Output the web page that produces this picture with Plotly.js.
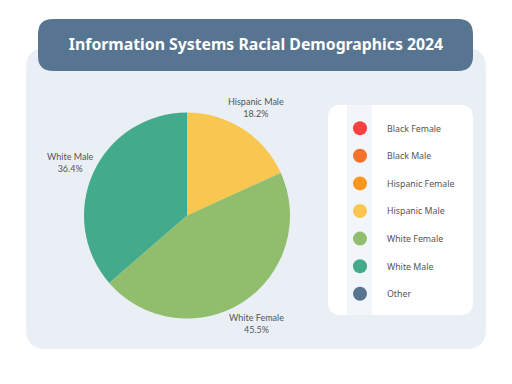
<!DOCTYPE html>
<html>
<head>
<meta charset="utf-8">
<script src="https://cdn.plot.ly/plotly-3.0.1.min.js"></script>
<style>html,body{margin:0;padding:0;background:#fff;}#chart{width:512px;height:384px;}</style>
</head>
<body>
<div id="chart"></div>
<script>
var categories = ["Black Female", "Black Male", "Hispanic Female", "Hispanic Male", "White Female", "White Male", "Other"];
var counts = [0, 0, 0, 2, 5, 4, 0];
var colors = ["#f94144", "#f3722c", "#f8961e", "#f9c74f", "#90be6d", "#43aa8b", "#577590"];
var chartTitle = "Information Systems Racial Demographics 2024";

var W = 512, H = 384;
function px(x){ return x / W; }
function py(y){ return 1 - y / H; }
function roundRect(x0, y0, x1, y1, r){
  var X = function(v){ return px(v).toFixed(5); };
  var Y = function(v){ return py(v).toFixed(5); };
  return "M" + X(x0 + r) + "," + Y(y0) +
    " L" + X(x1 - r) + "," + Y(y0) +
    " Q" + X(x1) + "," + Y(y0) + " " + X(x1) + "," + Y(y0 + r) +
    " L" + X(x1) + "," + Y(y1 - r) +
    " Q" + X(x1) + "," + Y(y1) + " " + X(x1 - r) + "," + Y(y1) +
    " L" + X(x0 + r) + "," + Y(y1) +
    " Q" + X(x0) + "," + Y(y1) + " " + X(x0) + "," + Y(y1 - r) +
    " L" + X(x0) + "," + Y(y0 + r) +
    " Q" + X(x0) + "," + Y(y0) + " " + X(x0 + r) + "," + Y(y0) + " Z";
}

var pieLabels = [], pieValues = [], pieColors = [];
for (var i = 0; i < categories.length; i++) {
  if (counts[i] > 0) { pieLabels.push(categories[i]); pieValues.push(counts[i]); pieColors.push(colors[i]); }
}

// pie geometry (pixels)
var cx = 187, cy = 215.5, R = 103, labelR = 128;

var traces = [{
  type: "pie",
  labels: pieLabels,
  values: pieValues,
  marker: { colors: pieColors, line: { width: 0 } },
  sort: false,
  direction: "clockwise",
  rotation: 0,
  textinfo: "none",
  showlegend: false,
  hoverinfo: "none",
  domain: { x: [px(cx - R), px(cx + R)], y: [py(cy + R), py(cy - R)] }
}];
for (var j = 0; j < categories.length; j++) {
  traces.push({
    type: "scatter",
    mode: "markers",
    x: [null], y: [null],
    name: categories[j],
    legendgroup: "g" + j,
    marker: { color: colors[j], size: 14, symbol: "circle" },
    showlegend: true,
    hoverinfo: "none"
  });
}

// outside slice labels at the middle angle of each slice
var total = pieValues.reduce(function(a, b){ return a + b; }, 0);
var annotations = [];
var cum = 0;
for (var k = 0; k < pieValues.length; k++) {
  var mid = (cum + pieValues[k] / 2) / total * 2 * Math.PI;
  cum += pieValues[k];
  var lx = cx + labelR * Math.sin(mid);
  var ly = cy - labelR * Math.cos(mid);
  annotations.push({
    xref: "paper", yref: "paper",
    x: px(lx), y: py(ly),
    xanchor: "center", yanchor: "middle",
    showarrow: false,
    align: "center",
    text: pieLabels[k] + "<br>" + (pieValues[k] / total * 100).toFixed(1) + "%",
    font: { family: "Lato", size: 9, color: "#555555" }
  });
}

var layout = {
  width: W, height: H,
  margin: { l: 0, r: 0, t: 0, b: 0 },
  paper_bgcolor: "#ffffff",
  plot_bgcolor: "rgba(0,0,0,0)",
  xaxis: { visible: false, range: [0, 1] },
  yaxis: { visible: false, range: [0, 1] },
  title: {
    text: "<b>" + chartTitle + "</b>",
    x: 0.5, xanchor: "center",
    y: py(44), yanchor: "middle",
    font: { family: "Noto Sans", size: 15.8, color: "#ffffff" }
  },
  showlegend: true,
  legend: {
    x: px(333), y: py(113.7), xanchor: "left", yanchor: "top",
    bgcolor: "rgba(0,0,0,0)",
    borderwidth: 0,
    itemwidth: 44,
    tracegroupgap: 8.6,
    traceorder: "grouped",
    font: { family: "Noto Sans", size: 8.8, color: "#555555" },
    itemclick: false, itemdoubleclick: false
  },
  annotations: annotations,
  shapes: [
    { type: "path", xref: "paper", yref: "paper", layer: "below", path: roundRect(26, 48, 486, 349, 20), fillcolor: "#eaeff6", line: { width: 0 } },
    { type: "path", xref: "paper", yref: "paper", layer: "below", path: roundRect(38, 19, 473, 71, 15), fillcolor: "#577590", line: { width: 0 } },
    { type: "path", xref: "paper", yref: "paper", layer: "below", path: roundRect(328, 105, 473, 315, 13), fillcolor: "#ffffff", line: { width: 0 } },
    { type: "rect", xref: "paper", yref: "paper", layer: "below", x0: px(347), x1: px(372), y0: py(315), y1: py(105), fillcolor: "#f2f5f9", line: { width: 0 } }
  ]
};

Plotly.newPlot("chart", traces, layout, { staticPlot: true, displayModeBar: false });
</script>
</body>
</html>
